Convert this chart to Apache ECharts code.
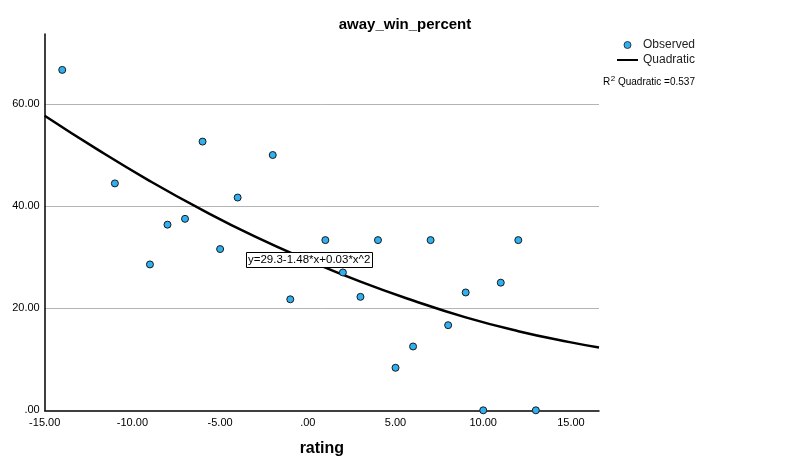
<!DOCTYPE html>
<html>
<head>
<meta charset="utf-8">
<script src="https://cdn.jsdelivr.net/npm/echarts@6/dist/echarts.min.js"></script>
<style>
  html, body { margin: 0; padding: 0; background: #fff; }
  #main { width: 800px; height: 471px; }
</style>
</head>
<body>
<div id="main"></div>
<script>
// observed points (rating, away_win_percent)
const ratingX = [-14, -11, -9, -8, -7, -6, -5, -4, -2, -1, 1, 2, 3, 4, 5, 6, 7, 8, 9, 10, 11, 12, 13];
const awayWinY = [66.67, 44.44, 28.57, 36.36, 37.5, 52.63, 31.58, 41.67, 50, 21.74, 33.33, 27.0, 22.22, 33.33, 8.33, 12.5, 33.33, 16.67, 23.08, 0, 25, 33.33, 0];

// quadratic fit curve
const fitX = [-15, -12, -9, -6, -3, 0, 3, 6, 9, 12, 15, 16.6];
const fitY = [57.7, 51.1, 44.9, 39.2, 34.0, 29.4, 25.2, 21.5, 18.2, 15.5, 13.3, 12.3];

const fitLabel = 'y=29.3-1.48*x+0.03*x^2';
const r2Value = '0.537';

const font = 'Liberation Sans, Arial, sans-serif';

function fmt(v) {
    let s = Math.abs(v).toFixed(2);
    if (s.startsWith('0')) s = s.slice(1);
    return (v < 0 ? '-' : '') + s;
}

var chart = echarts.init(document.getElementById('main'));
var option = {
    animation: false,
    backgroundColor: '#fff',
    textStyle: { fontFamily: font },
    title: [
        {
            text: 'away_win_percent',
            left: 400,
            textAlign: 'center',
            top: 12,
            textStyle: { fontFamily: font, fontSize: 15, fontWeight: 'bold', color: '#000' }
        },
        {
            text: '{r|R}{s|2}{n| Quadratic =' + r2Value + '}',
            left: 598,
            top: 70,
            textStyle: {
                fontWeight: 'normal',
                rich: {
                    r: { fontFamily: font, fontSize: 10, fontWeight: 'normal', color: '#000', verticalAlign: 'bottom' },
                    s: { fontFamily: font, fontSize: 8, fontWeight: 'normal', color: '#000', verticalAlign: 'top', padding: [0, 0, 4, 0.5] },
                    n: { fontFamily: font, fontSize: 10, fontWeight: 'normal', color: '#000', verticalAlign: 'bottom' }
                }
            }
        },
        {
            text: fitLabel,
            left: 246,
            top: 252,
            padding: [2, 2, 2, 2],
            borderColor: '#000',
            borderWidth: 1,
            backgroundColor: '#fff',
            textStyle: { fontFamily: font, fontSize: 11.5, fontWeight: 'normal', color: '#000' }
        }
    ],
    legend: {
        orient: 'vertical',
        left: 611,
        top: 34,
        itemWidth: 21,
        itemHeight: 7,
        itemGap: 3,
        textStyle: { fontFamily: font, fontSize: 12, color: '#222' },
        data: [
            { name: 'Observed', icon: 'circle', itemStyle: { borderWidth: 0.8 } },
            { name: 'Quadratic', itemStyle: { opacity: 0 } }
        ]
    },
    grid: { left: 44.7, right: 201, top: 34, bottom: 60.7, containLabel: false },
    xAxis: {
        type: 'value',
        min: -15,
        max: 16.6,
        interval: 5,
        name: 'rating',
        nameLocation: 'middle',
        nameGap: 30,
        nameTextStyle: { fontFamily: font, fontSize: 16, fontWeight: 'bold', color: '#000' },
        axisLine: { show: true, onZero: false, lineStyle: { color: '#000', width: 1.5 } },
        axisTick: { show: false },
        splitLine: { show: false },
        axisLabel: {
            showMaxLabel: false,
            margin: 7,
            fontFamily: font,
            fontSize: 11,
            color: '#000',
            formatter: fmt
        }
    },
    yAxis: {
        type: 'value',
        min: 0,
        max: 73.7,
        interval: 20,
        axisLine: { show: true, onZero: false, lineStyle: { color: '#000', width: 1.5 } },
        axisTick: { show: false },
        splitLine: { show: true, showMinLine: false, showMaxLine: false, lineStyle: { color: '#b4b4b4', width: 1 } },
        axisLabel: {
            showMaxLabel: false,
            margin: 5,
            fontFamily: font,
            fontSize: 11,
            color: '#000',
            formatter: fmt
        }
    },
    series: [
        {
            name: 'Quadratic',
            type: 'line',
            smooth: true,
            showSymbol: false,
            symbol: 'none',
            z: 2,
            lineStyle: { color: '#000', width: 2.5 },
            itemStyle: { color: '#000' },
            data: fitX.map((x, i) => [x, fitY[i]])
        },
        {
            name: 'Observed',
            type: 'scatter',
            symbol: 'circle',
            symbolSize: 7,
            clip: true,
            z: 3,
            itemStyle: { color: '#2fb0f0', borderColor: '#1a1a1a', borderWidth: 1, opacity: 1 },
            data: ratingX.map((x, i) => [x, awayWinY[i]])
        }
    ]
};
option && chart.setOption(option);
</script>
</body>
</html>
